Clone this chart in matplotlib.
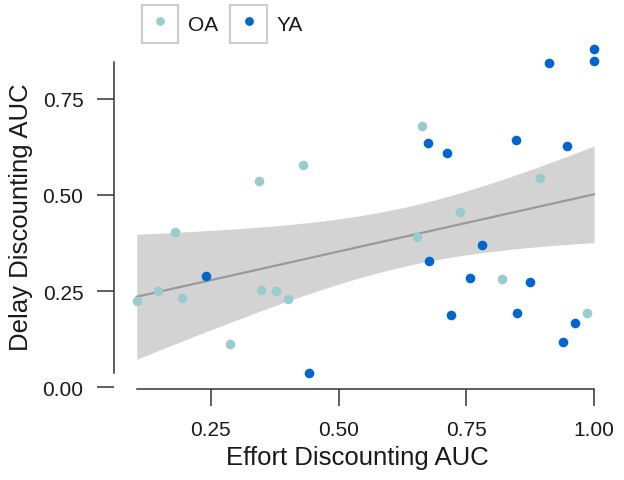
import matplotlib
matplotlib.use("Agg")
import matplotlib.pyplot as plt
import numpy as np
from matplotlib.patches import Rectangle
from matplotlib.legend_handler import HandlerTuple

plt.rcParams['font.family'] = ['Liberation Sans', 'DejaVu Sans']

# OA group
oa_x = [0.180, 0.344, 0.430, 0.663, 0.894, 0.738, 0.653, 0.147, 0.105, 0.193,
        0.349, 0.377, 0.401, 0.288, 0.819, 0.986]
oa_y = [0.403, 0.537, 0.577, 0.678, 0.544, 0.455, 0.391, 0.251, 0.225, 0.232,
        0.254, 0.249, 0.230, 0.112, 0.282, 0.194]
# YA group
ya_x = [1.000, 1.000, 0.911, 0.675, 0.713, 0.847, 0.947, 0.240, 0.442, 0.781,
        0.678, 0.757, 0.875, 0.720, 0.849, 0.963, 0.939]
ya_y = [0.879, 0.848, 0.842, 0.634, 0.609, 0.643, 0.628, 0.288, 0.038, 0.370,
        0.329, 0.284, 0.274, 0.188, 0.193, 0.168, 0.117]

groups = ['OA', 'YA']
colors = {'OA': '#99cccc', 'YA': '#0066cc'}
xticks = [0.25, 0.50, 0.75, 1.00]
yticks = [0.00, 0.25, 0.50, 0.75]

# linear fit with 95% CI on all points
x_all = np.array(oa_x + ya_x)
y_all = np.array(oa_y + ya_y)
n = len(x_all)
slope, icpt = np.polyfit(x_all, y_all, 1)
resid = y_all - (slope * x_all + icpt)
s = np.sqrt(np.sum(resid ** 2) / (n - 2))
xs = np.linspace(x_all.min(), x_all.max(), 200)
t_crit = 2.04
se = s * np.sqrt(1 / n + (xs - x_all.mean()) ** 2 / np.sum((x_all - x_all.mean()) ** 2))
fit = slope * xs + icpt

fig = plt.figure(figsize=(6.24, 4.81), dpi=100)
ax = fig.add_axes([114 / 624, 91 / 481, 486 / 624, 345 / 481])

ax.fill_between(xs, fit - t_crit * se, fit + t_crit * se, color='#d3d3d3', lw=0, zorder=1)
ax.plot(xs, fit, color='#999999', lw=1.6, zorder=2)
ax.scatter(oa_x, oa_y, s=48, color=colors['OA'], lw=0, zorder=3)
ax.scatter(ya_x, ya_y, s=48, color=colors['YA'], lw=0, zorder=3)

ax.set_xlim(0.0607, 1.0117)
ax.set_ylim(-0.0044, 0.8917)
ax.set_xticks(xticks)
ax.set_xticklabels(['%.2f' % v for v in xticks])
ax.set_yticks(yticks)
ax.set_yticklabels(['%.2f' % v for v in yticks])

for side in ['top', 'right']:
    ax.spines[side].set_visible(False)
for side in ['left', 'bottom']:
    ax.spines[side].set_color('#333333')
    ax.spines[side].set_linewidth(1.1)
ax.spines['bottom'].set_bounds(min(x_all), max(x_all))
ax.spines['left'].set_bounds(min(y_all), 0.845)

ax.tick_params(axis='both', length=12, width=1.1, color='#333333',
               labelsize=15, labelcolor='#1a1a1a', pad=10)
ax.set_xlabel('Effort Discounting AUC', fontsize=18.5, color='#1a1a1a', labelpad=5)
ax.set_ylabel('Delay Discounting AUC', fontsize=18.5, color='#1a1a1a', labelpad=7)

# legend: grey-framed key box with a dot in the middle
hh = 2.4
# legend puts the handle box partly below the text baseline; centre the dot in the box
dot_off = 0.5 - 0.35 * (hh - 0.7) / hh
handles = []
for g in groups:
    box = Rectangle((0, 0), 1, 1, facecolor='white', edgecolor='#cccccc', lw=1.5)
    dot = ax.scatter([], [], s=40, color=colors[g], lw=0)
    handles.append((box, dot))
leg = fig.legend(handles, groups, handler_map={tuple: HandlerTuple(ndivide=1)},
                 loc='upper left', bbox_to_anchor=(142 / 624, 1 - 6 / 481),
                 ncol=2, frameon=False, fontsize=15, borderpad=0, borderaxespad=0,
                 handlelength=1.75, handleheight=hh, handletextpad=0.45,
                 columnspacing=0.6, scatterpoints=1, scatteryoffsets=[dot_off])
for t in leg.get_texts():
    t.set_color('#1a1a1a')

fig.savefig('out.png', dpi=100)
